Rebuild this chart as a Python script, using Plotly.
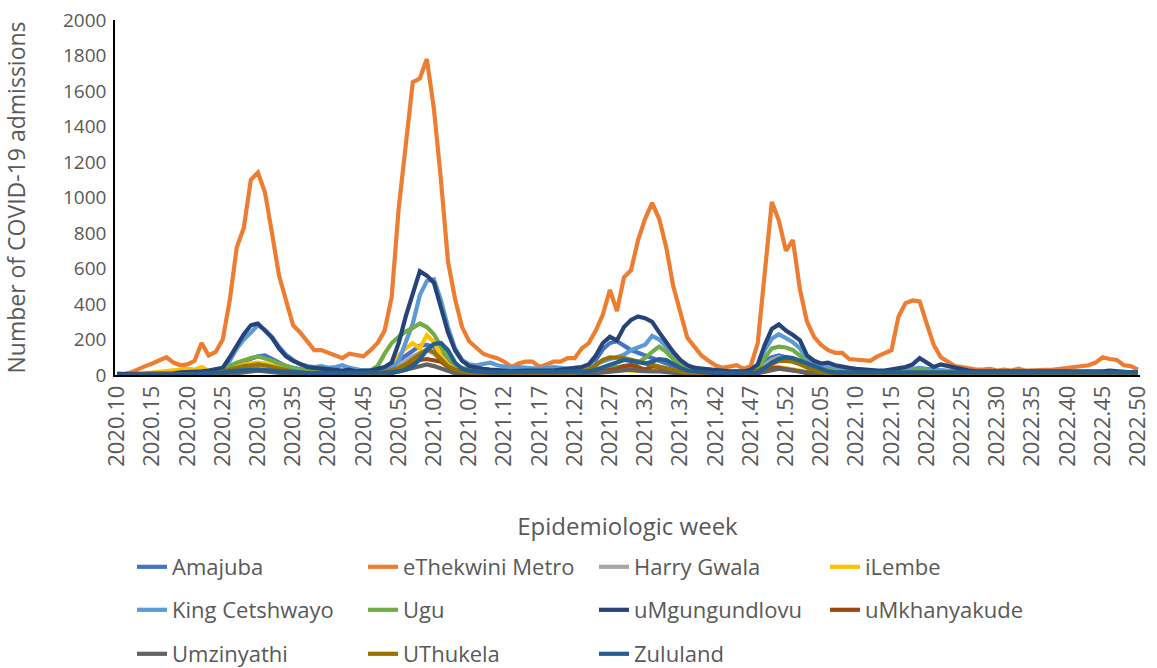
import plotly.graph_objects as go

# ---- categories: epidemiologic weeks ----
weeks = ([f"2020.{w:02d}" for w in range(10, 54)] +
         [f"2021.{w:02d}" for w in range(1, 53)] +
         [f"2022.{w:02d}" for w in range(1, 51)])
tick_labels = weeks[::5]

amajuba = [0,0,0,0,0,0,5,5,5,5, 5,5,5,10,10,25,50,65,80,95,
           105,110,90,70,50,40,30,25,20,20, 20,15,15,15,15,15,20,25,35,50,
           80,110,140,165,170,160,120,80,50,35, 30,25,25,20,20,25,30,30,25,25,
           30,30,35,35,30,30,35,45,85,145, 180,190,165,140,125,110,95,80,60,45,
           35,30,25,20,15,15,15,15,15,15, 20,40,80,100,110,100,90,70,50,40,
           30,30,25,25,20,20,20,15,15,15, 15,20,20,25,30,25,20,15,15,10,
           10,10,10,10,10,10,10,10,10,10, 10,10,10,10,10,10,10,10,15,15,
           10,10,10,10,10,10]
ethekwini = [10,5,15,35,50,65,85,100,70,55, 60,80,180,110,130,200,420,720,830,1100,
             1140,1030,800,560,420,280,240,190,140,140, 125,110,95,120,115,105,140,180,250,440,
             940,1300,1650,1670,1780,1500,1100,640,430,270, 190,155,120,105,95,75,45,65,75,75,
             45,60,75,75,95,95,150,180,250,340, 480,360,550,590,760,880,970,880,720,500,
             350,210,160,110,80,55,40,50,55,35, 50,180,560,975,870,700,760,480,300,215,
             170,140,125,125,90,85,85,80,105,120, 140,330,405,420,415,290,170,100,75,50,
             45,35,30,30,35,25,30,25,35,25, 25,25,25,30,35,40,40,45,55,70,
             100,90,85,55,50,30]
harry_gwala = [0,0,0,0,0,0,0,0,5,5, 5,5,5,5,5,10,20,30,40,50,
               55,50,40,30,20,15,10,10,5,5, 5,5,5,5,5,5,10,15,20,30,
               50,80,105,125,140,120,80,45,25,15, 10,10,5,5,5,5,5,5,5,5,
               5,5,5,5,10,10,10,15,20,30, 35,40,40,35,30,30,35,40,35,25,
               15,10,10,5,5,5,5,5,5,5, 10,30,60,85,100,95,85,70,45,25,
               15,10,10,5,5,5,5,5,5,5, 5,10,10,15,10,5,5,5,5,5,
               5,5,5,5,5,5,5,5,5,5, 5,5,5,5,5,5,5,5,5,5,
               5,5,5,5,5,5]
ilembe = [0,0,0,5,10,15,15,20,25,30, 35,30,45,25,20,25,40,55,60,65,
          70,65,55,40,30,25,20,15,10,10, 10,10,10,10,10,15,15,20,30,60,
          110,150,180,150,225,185,110,60,35,20, 15,10,10,10,5,5,5,5,5,5,
          5,5,10,10,10,10,15,20,25,30, 30,25,30,25,20,20,25,30,25,20,
          15,10,10,5,5,5,5,5,5,10, 15,25,35,40,45,40,35,25,15,10,
          10,10,5,5,5,5,5,5,5,5, 5,10,10,15,10,5,5,5,5,5,
          5,5,5,5,5,5,5,5,5,5, 5,5,5,5,5,5,5,5,5,5,
          5,5,5,5,5,5]
king_cetshwayo = [0,0,0,0,0,5,5,5,5,5, 5,10,10,10,15,30,80,150,200,240,
                  280,255,215,160,115,85,60,50,45,50, 40,45,55,40,30,25,25,30,35,40,
                  80,180,290,450,530,540,420,270,150,85, 60,55,60,70,55,45,40,45,40,35,
                  35,40,45,40,35,40,40,50,65,80, 90,100,115,140,155,170,220,200,160,120,
                  80,50,40,30,25,20,20,15,15,15, 25,50,140,205,230,210,185,150,90,60,
                  50,45,40,35,30,30,25,25,20,20, 20,25,30,35,40,35,30,25,20,20,
                  20,15,15,15,15,15,15,15,15,15, 15,15,15,15,15,15,15,15,15,15,
                  15,15,20,20,15,15]
ugu = [0,0,0,0,0,0,0,5,5,5, 5,5,5,10,10,20,50,70,85,95,
       105,95,80,65,50,40,30,25,20,20, 15,15,15,15,15,20,25,50,120,180,
       215,245,265,290,270,230,160,100,60,40, 30,25,20,20,20,15,15,15,15,15,
       15,15,15,20,20,20,25,25,30,35, 40,45,50,55,70,95,130,160,130,90,
       60,45,35,25,20,15,15,15,15,15, 20,40,100,150,160,155,140,110,60,40,
       30,25,25,20,20,20,15,15,15,15, 15,15,20,25,30,25,20,15,15,15,
       10,10,10,10,10,10,10,10,10,10, 10,10,10,10,10,10,10,10,10,10,
       10,10,10,10,10,10]
umgungundlovu = [5,5,5,5,5,10,10,10,10,15, 15,20,20,25,30,40,100,170,230,280,
                 290,250,210,150,105,80,60,45,40,35, 30,25,25,30,20,25,25,35,45,70,
                 180,330,450,585,560,520,380,240,140,80, 50,40,35,30,30,25,20,25,25,25,
                 25,20,25,30,35,40,45,60,110,180, 215,195,270,310,330,320,300,240,180,130,
                 85,55,40,35,30,25,20,20,20,20, 30,60,170,260,285,250,225,195,110,80,
                 65,70,55,45,40,35,30,25,25,25, 30,35,45,60,95,70,45,60,50,40,
                 30,25,20,20,20,15,15,15,15,15, 15,15,15,15,15,15,15,15,20,20,
                 20,25,20,20,15,15]
umkhanyakude = [0,0,0,0,0,0,0,0,0,0, 0,0,0,0,0,5,10,15,20,25,
                30,25,20,15,10,5,5,5,0,0, 0,0,0,0,0,0,5,5,10,15,
                25,40,60,85,90,85,75,45,25,10, 5,5,5,5,5,5,5,5,5,5,
                5,5,5,5,5,5,10,10,15,20, 25,35,50,55,45,30,50,45,30,20,
                10,5,5,5,5,5,5,5,5,5, 10,20,30,40,40,35,30,20,10,5,
                5,5,5,5,5,5,5,5,5,5, 5,5,5,5,5,5,5,5,5,5,
                5,5,5,5,5,5,5,5,5,5, 5,5,5,5,5,5,5,5,5,5,
                5,5,5,5,5,5]
umzinyathi = [0,0,0,0,0,0,0,0,0,0, 0,0,0,0,0,5,5,10,15,20,
              25,20,15,10,5,5,5,5,0,0, 0,0,0,0,0,0,0,0,0,10,
              20,30,45,55,60,50,35,20,10,5, 5,5,5,5,5,5,5,5,5,5,
              5,5,5,5,5,5,5,5,10,15, 20,25,30,30,25,20,20,20,15,10,
              5,5,5,0,0,0,0,0,0,0, 0,10,20,30,35,30,25,15,10,5,
              5,5,5,5,5,5,5,5,5,5, 5,5,5,5,5,5,5,5,5,5,
              5,5,5,5,5,5,5,5,5,5, 5,5,5,5,5,5,5,5,5,5,
              5,5,5,5,5,5]
uthukela = [0,0,0,0,0,0,0,0,5,5, 5,5,5,5,10,20,35,45,50,55,
            60,55,45,35,25,20,15,10,10,10, 5,5,5,5,5,5,10,10,15,25,
            40,60,90,120,145,130,90,50,30,20, 15,10,10,10,10,10,10,10,10,10,
            10,10,10,10,15,15,20,30,55,85, 100,100,95,85,75,65,55,45,35,25,
            15,10,10,10,5,5,5,5,5,5, 10,25,45,65,80,80,75,60,40,25,
            15,10,10,10,10,10,10,10,10,10, 10,10,10,10,10,10,10,10,10,10,
            10,10,10,10,10,10,10,10,10,10, 10,10,10,10,10,10,10,10,10,10,
            10,10,10,10,10,10]
zululand = [0,0,0,0,5,5,5,5,5,5, 5,5,10,10,10,15,20,25,25,30,
            30,30,25,20,20,15,15,10,10,10, 10,10,10,10,10,10,10,10,10,15,
            20,30,50,90,140,175,180,140,70,35, 25,20,15,15,15,15,15,15,15,15,
            15,15,15,15,15,15,15,20,30,45, 60,75,85,80,70,65,75,90,85,60,
            40,25,20,15,15,10,10,10,10,10, 10,15,40,70,90,100,95,80,65,45,
            30,20,15,15,15,15,15,15,15,15, 15,15,15,15,15,15,15,15,15,15,
            15,15,15,15,15,15,15,15,15,15, 15,15,15,15,15,15,15,15,15,15,
            15,15,15,15,15,15]

series = [
    ("Amajuba", amajuba, "#4472C4"),
    ("eThekwini Metro", ethekwini, "#ED7D31"),
    ("Harry Gwala", harry_gwala, "#A5A5A5"),
    ("iLembe", ilembe, "#FFC000"),
    ("King Cetshwayo", king_cetshwayo, "#5B9BD5"),
    ("Ugu", ugu, "#70AD47"),
    ("uMgungundlovu", umgungundlovu, "#264478"),
    ("uMkhanyakude", umkhanyakude, "#9E480E"),
    ("Umzinyathi", umzinyathi, "#636363"),
    ("UThukela", uthukela, "#997300"),
    ("Zululand", zululand, "#255E91"),
]

FONT = "Open Sans"
GREY = "#595959"

fig = go.Figure()
legend_ids = ["legend", "legend", "legend", "legend",
              "legend2", "legend2", "legend2", "legend2",
              "legend3", "legend3", "legend3"]
for (name, vals, col), lg in zip(series, legend_ids):
    vals = vals[:len(weeks)]
    fig.add_trace(go.Scatter(
        x=weeks, y=vals, name=name, mode="lines",
        line=dict(color=col, width=4.2, shape="linear"),
        legend=lg,
    ))

leg_common = dict(orientation="h", xanchor="left", yanchor="middle",
                  xref="container", yref="container",
                  font=dict(family=FONT, size=22, color=GREY),
                  entrywidth=186, entrywidthmode="pixels",
                  bgcolor="rgba(0,0,0,0)", itemwidth=30,
                  tracegroupgap=0)

fig.update_layout(
    width=1157, height=668,
    margin=dict(l=115, r=17, t=20, b=293, autoexpand=False),
    paper_bgcolor="white", plot_bgcolor="white",
    font=dict(family=FONT, color=GREY),
    showlegend=True,
    legend=dict(x=132 / 1157, y=1 - 567 / 668, **leg_common),
    legend2=dict(x=132 / 1157, y=1 - 610 / 668, **leg_common),
    legend3=dict(x=132 / 1157, y=1 - 654 / 668, **leg_common),
    xaxis=dict(
        type="category", categoryorder="array", categoryarray=weeks,
        range=[-0.3, len(weeks) - 0.7],
        tickmode="array", tickvals=tick_labels, ticktext=tick_labels,
        tickangle=-90, tickfont=dict(family=FONT, size=22, color=GREY),
        showgrid=False, zeroline=False, automargin=False,
        showline=True, linecolor="#000000", linewidth=1.5,
        ticks="",
        title=dict(text="Epidemiologic week", font=dict(family=FONT, size=24, color=GREY),
                   standoff=52),
    ),
    yaxis=dict(
        range=[0, 2000], dtick=200, tick0=0,
        tickfont=dict(family=FONT, size=19, color=GREY),
        showgrid=False, zeroline=False, automargin=False,
        showline=True, linecolor="#000000", linewidth=1.5,
        ticks="", ticklabelstandoff=3,
        title=dict(text="Number of COVID-19 admissions", font=dict(family=FONT, size=23, color=GREY),
                   standoff=33),
    ),
)

fig.write_html("out.html",
               config={"displayModeBar": False},
               post_script="document.body.style.margin='0';document.body.style.overflow='hidden';")
